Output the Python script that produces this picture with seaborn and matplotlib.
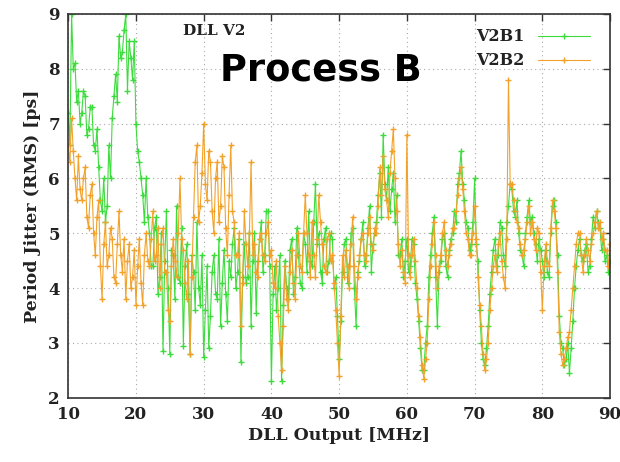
import numpy as np
import pandas as pd
import matplotlib
matplotlib.use("Agg")
import matplotlib.pyplot as plt
from matplotlib.lines import Line2D
import seaborn as sns

# Frequency axis (MHz)
freq = [10.0 + 0.25 * i for i in range(321)]

v2b1 = [
    7.2, 6.6, 9.0, 8.0, 8.1, 7.4, 7.6, 7.0,
    7.2, 7.6, 7.5, 6.8, 6.9, 7.3, 7.3, 6.6,
    6.5, 6.9, 6.2, 5.6, 5.4, 6.0, 5.2, 5.5,
    6.6, 6.0, 7.1, 7.5, 7.9, 7.4, 8.6, 8.2,
    8.3, 8.7, 9.0, 7.6, 8.5, 8.2, 7.8, 8.5,
    7.0, 6.5, 6.3, 6.0, 5.7, 5.2, 6.0, 5.3,
    5.0, 4.4, 4.4, 5.1, 5.3, 3.9, 4.2, 5.0,
    2.85, 4.5, 5.4, 4.0, 2.8, 4.7, 4.6, 3.8,
    5.5, 4.2, 4.1, 5.1, 2.95, 4.4, 4.8, 3.9,
    2.8, 4.6, 4.3, 3.6, 5.2, 4.0, 3.7, 4.6,
    2.75, 3.6, 4.4, 2.9, 3.5, 4.3, 4.6, 3.9,
    3.8, 4.9, 3.3, 4.1, 4.7, 3.9, 3.4, 4.5,
    4.2, 4.8, 5.1, 4.0, 4.3, 4.9, 2.65, 4.2,
    4.8, 4.1, 4.2, 5.0, 3.3, 4.5, 5.0, 3.55,
    4.5, 4.9, 5.2, 4.3, 4.6, 5.4, 5.4, 4.4,
    2.3, 3.9, 4.4, 3.6, 4.0, 4.6, 2.3, 3.7,
    4.5, 4.0, 3.8, 4.7, 4.9, 3.9, 4.2, 5.1,
    4.6, 4.1, 4.0, 5.0, 4.8, 4.3, 5.4, 4.5,
    4.4, 5.2, 5.9, 4.8, 5.0, 4.3, 4.1, 4.9,
    5.1, 4.3, 4.5, 5.0, 4.9, 4.0, 4.2, 3.5,
    2.7, 3.4, 4.3, 4.8, 4.9, 4.1, 4.4, 5.0,
    5.1, 4.0, 3.3, 4.3, 4.5, 4.9, 5.2, 4.4,
    4.6, 5.1, 5.5, 4.3, 4.8, 5.0, 5.2, 5.7,
    6.1, 5.3, 6.8, 5.9, 5.6, 6.2, 5.4, 5.8,
    6.1, 5.2, 5.7, 4.6, 4.6, 4.9, 4.2, 4.5,
    4.9, 4.3, 4.4, 4.9, 4.8, 4.1, 3.8, 3.4,
    2.9, 2.5, 2.5, 3.0, 3.3, 4.2, 4.6, 5.0,
    5.3, 4.2, 3.3, 4.3, 4.5, 4.9, 5.0, 4.4,
    4.2, 4.7, 4.9, 5.0, 5.4, 5.2, 5.9, 6.1,
    6.5, 5.9, 5.6, 5.2, 5.1, 4.7, 4.8, 5.2,
    6.0, 4.8, 4.5, 3.6, 3.0, 2.7, 2.6, 2.9,
    3.3, 3.9, 4.3, 4.7, 4.9, 4.4, 4.6, 5.2,
    5.1, 4.6, 4.4, 5.2, 5.5, 5.9, 5.8, 5.4,
    5.3, 5.6, 5.0, 4.7, 4.6, 4.4, 5.0, 5.3,
    5.6, 5.2, 5.3, 5.0, 4.8, 4.5, 4.9, 4.7,
    4.5, 4.2, 4.7, 4.3, 4.2, 5.0, 5.5, 5.6,
    5.2, 4.6, 3.5, 3.0, 2.9, 2.6, 2.7, 3.0,
    2.45, 2.9, 3.4, 4.0, 4.4, 4.7, 4.9, 4.6,
    4.5, 4.7, 4.8, 4.3, 4.4, 4.9, 5.3, 5.1,
    5.4, 5.2, 5.1, 4.7, 4.9, 4.5, 4.6, 4.3,
    4.5,
]

v2b2 = [
    6.6, 6.3, 7.1, 6.5, 6.0, 5.6, 6.4, 5.8,
    5.6, 6.0, 6.2, 5.3, 5.1, 5.7, 5.9, 5.0,
    4.6, 5.3, 5.6, 4.4, 3.8, 4.8, 5.2, 4.4,
    4.6, 5.1, 4.9, 4.2, 4.1, 4.8, 5.4, 4.6,
    4.3, 4.9, 3.8, 4.5, 4.8, 4.0, 4.2, 4.7,
    3.7, 4.4, 4.9, 4.1, 3.7, 4.6, 5.0, 4.5,
    4.4, 4.9, 5.4, 4.5, 4.6, 5.1, 4.0, 4.8,
    5.1, 4.3, 4.3, 3.6, 3.4, 4.4, 4.9, 4.5,
    4.2, 5.0, 6.0, 4.9, 4.7, 4.1, 3.8, 4.5,
    2.8, 4.2, 5.3, 6.3, 6.6, 5.2, 5.5, 6.1,
    7.0, 5.9, 5.6, 6.5, 6.3, 5.4, 5.0, 6.0,
    6.3, 5.2, 5.5, 6.4, 6.2, 5.1, 4.6, 5.7,
    6.6, 5.4, 5.2, 4.6, 4.6, 5.0, 3.3, 4.1,
    5.4, 4.8, 4.4, 5.0, 6.3, 4.6, 4.8, 4.3,
    4.2, 4.9, 5.0, 4.6, 4.5, 5.0, 5.2, 4.6,
    4.7, 4.1, 4.0, 4.5, 3.5, 3.0, 2.5, 3.3,
    4.4, 3.8, 3.6, 4.3, 4.7, 4.1, 3.8, 4.6,
    5.0, 4.4, 4.3, 5.0, 5.7, 5.0, 4.6, 4.2,
    5.2, 4.6, 4.2, 4.9, 5.7, 5.2, 4.8, 4.4,
    4.3, 4.9, 5.0, 4.5, 4.6, 4.1, 3.6, 3.0,
    2.4, 3.5, 4.6, 4.2, 4.7, 4.4, 4.0, 4.8,
    5.3, 4.4, 3.8, 4.2, 4.6, 4.9, 5.0, 4.6,
    4.5, 5.0, 5.3, 4.8, 4.7, 5.1, 5.0, 5.5,
    6.2, 5.7, 6.4, 5.8, 5.6, 5.3, 6.1, 6.5,
    6.9, 6.0, 5.4, 4.8, 4.4, 4.7, 4.3, 4.1,
    6.8, 4.6, 4.2, 4.6, 4.9, 4.5, 4.0, 3.5,
    3.1, 2.6, 2.35, 2.7, 3.0, 3.8, 4.4, 4.8,
    5.2, 4.6, 4.0, 4.4, 4.6, 5.0, 5.2, 4.7,
    4.4, 4.6, 4.8, 5.1, 5.1, 5.4, 5.7, 6.0,
    6.2, 5.8, 5.4, 5.0, 4.9, 4.6, 4.6, 5.0,
    5.5, 4.9, 4.2, 3.7, 3.3, 2.8, 2.5, 2.7,
    3.0, 3.6, 4.0, 4.4, 4.6, 4.3, 4.8, 5.0,
    4.5, 4.2, 4.0, 4.9, 7.8, 5.9, 5.9, 5.6,
    5.4, 5.2, 5.1, 4.8, 4.6, 4.7, 4.9, 5.2,
    5.5, 5.0, 5.2, 4.9, 4.7, 5.1, 5.0, 4.3,
    3.6, 4.4, 4.8, 4.5, 4.4, 5.1, 5.6, 5.4,
    5.1, 4.3, 3.2, 2.8, 2.6, 2.7, 2.9, 3.1,
    3.2, 3.6, 4.0, 4.4, 4.8, 5.0, 5.0, 4.6,
    4.3, 4.6, 4.9, 4.7, 4.5, 4.8, 5.0, 5.2,
    5.4, 5.1, 5.2, 4.9, 5.0, 4.7, 4.7, 4.4,
    4.8,
]

series_names = ["V2B1", "V2B2"]
colors = {"V2B1": "#3ddc3d", "V2B2": "#f2a22a"}
x_ticks = [10, 20, 30, 40, 50, 60, 70, 80, 90]
y_ticks = [2, 3, 4, 5, 6, 7, 8, 9]

df = pd.DataFrame({
    "freq": freq * 2,
    "jitter": v2b1 + v2b2,
    "series": ["V2B1"] * len(v2b1) + ["V2B2"] * len(v2b2),
})

sns.set_theme(style="white")
plt.rcParams["font.family"] = ["DejaVu Serif"]

fig = plt.figure(figsize=(6.2, 4.62), dpi=100)
ax = fig.add_axes([0.110, 0.139, 0.874, 0.831])

sns.lineplot(data=df, x="freq", y="jitter", hue="series", palette=colors,
             hue_order=series_names, marker="+", markersize=4,
             linewidth=0.8, estimator=None, sort=False, legend=False, ax=ax)
for ln in ax.lines:
    ln.set_markeredgecolor(ln.get_color())
    ln.set_markeredgewidth(1.0)

ax.set_xlim(10, 90)
ax.set_ylim(2, 9)
ax.set_xticks(x_ticks)
ax.set_yticks(y_ticks)
ax.set_xticklabels([str(t) for t in x_ticks], fontweight="bold", fontsize=12)
ax.set_yticklabels([str(t) for t in y_ticks], fontweight="bold", fontsize=12)
ax.tick_params(direction="in", top=True, right=True, length=5, width=1,
               color="#333333", pad=6, labelcolor="#222222")
ax.grid(True, linestyle=(0, (1, 3)), color="#aaaaaa", linewidth=0.8)
for s in ax.spines.values():
    s.set_color("#333333")
    s.set_linewidth(1.2)

ax.set_xlabel("DLL Output [MHz]", fontweight="bold", fontsize=12.5, labelpad=3,
              color="#222222")
ax.set_ylabel("Period Jitter (RMS) [ps]", fontweight="bold", fontsize=12.5,
              labelpad=5, color="#222222")

ax.text(0.27, 0.955, "DLL V2", transform=ax.transAxes, fontweight="bold",
        fontsize=11, ha="center", va="center", color="#222222")
ax.text(0.466, 0.855, "Process B", transform=ax.transAxes, family="DejaVu Sans",
        fontweight="bold", fontsize=26.5, ha="center", va="center", color="black")

handles = [Line2D([], [], color=colors[n], marker="+", markersize=4,
                  markeredgewidth=1.0, linewidth=0.8) for n in series_names]
leg = ax.legend(handles, series_names, loc="upper right",
                bbox_to_anchor=(0.99, 1.0), frameon=False,
                markerfirst=False, handlelength=3.3, handletextpad=0.8,
                labelspacing=0.45, prop={"weight": "bold", "size": 11.5})
for t in leg.get_texts():
    t.set_color("#222222")

fig.savefig("out.png", dpi=100)
